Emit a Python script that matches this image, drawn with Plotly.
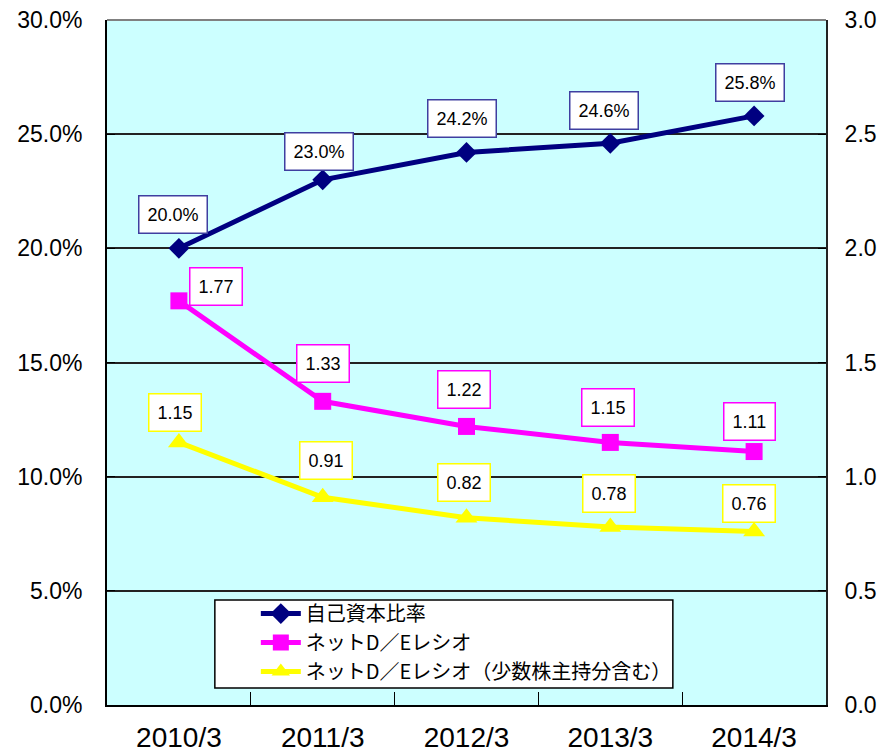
import plotly.graph_objects as go

categories = ["2010/3", "2011/3", "2012/3", "2013/3", "2014/3"]
equity_ratio = [20.0, 23.0, 24.2, 24.6, 25.8]          # %
net_de = [1.77, 1.33, 1.22, 1.15, 1.11]
net_de_minority = [1.15, 0.91, 0.82, 0.78, 0.76]
names = ["自己資本比率", "ネットD／Eレシオ", "ネットD／Eレシオ（少数株主持分含む）"]

# label offsets in pixels (style)
off_eq = [(-6, 34), (-4, 28), (-5, 34), (-6, 33), (-4, 33)]
off_de = [(37, 14), (0, 38), (-3, 37), (-2, 35), (-5, 30)]
off_dm = [(-4, 30), (3, 37), (-3, 35), (-1, 33), (-5, 28)]

NAVY = "#000080"
MAG = "#FF00FF"
YEL = "#FFFF00"
SANS = "Liberation Sans, Arial, sans-serif"
JP = "Noto Sans CJK JP, sans-serif"

fig = go.Figure()
fig.add_trace(go.Scatter(x=categories, y=equity_ratio, name=names[0], mode="lines+markers",
                         line=dict(color=NAVY, width=5),
                         marker=dict(symbol="diamond", size=16, color=NAVY)))
fig.add_trace(go.Scatter(x=categories, y=net_de, name=names[1], mode="lines+markers", yaxis="y2",
                         line=dict(color=MAG, width=5),
                         marker=dict(symbol="square", size=17, color=MAG)))
fig.add_trace(go.Scatter(x=categories, y=net_de_minority, name=names[2], mode="lines+markers", yaxis="y2",
                         line=dict(color=YEL, width=5),
                         marker=dict(symbol="triangle-up", size=19, color=YEL)))

ann = []
def add_labels(vals, fmt, yref, offs, border):
    for c, v, (dx, dy) in zip(categories, vals, offs):
        ann.append(dict(x=c, y=v, xref="x", yref=yref, text=fmt.format(v), showarrow=False,
                        xshift=dx, yshift=dy, bgcolor="white", bordercolor=border, borderwidth=1.5,
                        borderpad=8, font=dict(family=SANS, size=18, color="black")))
add_labels(equity_ratio, "{:.1f}%", "y", off_eq, "#3F3FA0")
add_labels(net_de, "{:.2f}", "y2", off_de, MAG)
add_labels(net_de_minority, "{:.2f}", "y2", off_dm, YEL)

# the page body adds an 8px margin, so the figure is sized to the visible area
fig.update_layout(
    width=881, height=744,
    margin=dict(l=99, r=63, t=12, b=47),
    paper_bgcolor="white", plot_bgcolor="#CCFFFF",
    annotations=ann,
    showlegend=True,
    legend=dict(x=0.207, y=0.162, xanchor="left", yanchor="top", bgcolor="rgba(0,0,0,0)",
                borderwidth=0, font=dict(family=JP, size=20, color="black"),
                tracegroupgap=0, itemwidth=40),
    shapes=[
        dict(type="rect", xref="paper", yref="paper", x0=0.150, x1=0.787, y0=0.0248, y1=0.1533,
             fillcolor="white", line=dict(color="black", width=1.5), layer="above"),
        dict(type="line", xref="paper", yref="paper", x0=0, x1=1, y0=1, y1=1,
             line=dict(color="#808080", width=2), layer="above"),
    ],
    xaxis=dict(type="category", range=[-0.5, 4.5], showgrid=False, showline=True, automargin=False,
               linecolor="black", linewidth=2, ticks="inside", ticklen=13, tickcolor="black",
               tickwidth=1, tickson="boundaries", ticklabelstandoff=6, ticklabeloverflow="allow",
               tickfont=dict(family=SANS, size=28, color="black")),
    yaxis=dict(range=[0, 30], dtick=5, tickformat=".1f", ticksuffix="%", showgrid=True,
               automargin=False, ticklabeloverflow="allow",
               gridcolor="#222222", gridwidth=1.5, showline=True, linecolor="black", linewidth=2,
               ticks="inside", ticklen=8, tickcolor="black", ticklabelstandoff=18, zeroline=False,
               tickfont=dict(family=SANS, size=23, color="black")),
    yaxis2=dict(range=[0, 3], dtick=0.5, tickformat=".1f", overlaying="y", side="right",
                automargin=False, ticklabeloverflow="allow",
                showgrid=False, showline=True, linecolor="#222222", linewidth=2,
                ticks="inside", ticklen=8, tickcolor="black", ticklabelstandoff=12, zeroline=False,
                tickfont=dict(family=SANS, size=23, color="black")),
)

fig.write_html("out.html")
